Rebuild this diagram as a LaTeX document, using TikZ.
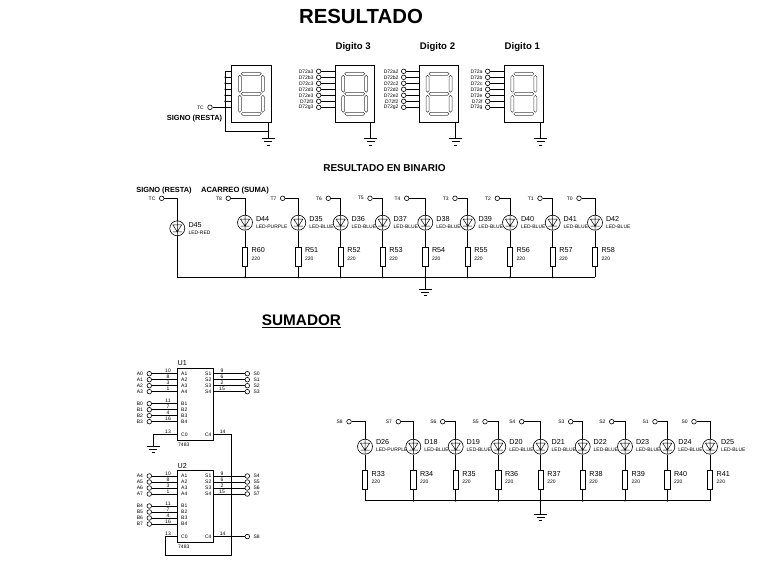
\documentclass[tikz,border=0pt]{standalone}
\usepackage{fontspec}
\setmainfont{Liberation Sans}
\usetikzlibrary{positioning}
\tikzset{
  wire/.style={line width=0.8pt},
  pin/.style={circle, draw, fill=white, line width=0.6pt, inner sep=0pt, minimum size=4.6pt},
  junc/.style={circle, fill, inner sep=0pt, minimum size=2pt},
  pintxt/.style={inner sep=0pt, font=\fontsize{5}{6}\selectfont},
  nametxt/.style={inner sep=0pt, anchor=west, font=\fontsize{7.2}{8}\selectfont},
  valtxt/.style={inner sep=0pt, anchor=west, font=\fontsize{5}{6}\selectfont},
  head/.style={inner sep=0pt, font=\bfseries\fontsize{#1}{#1}\selectfont},
  led/.style={circle, draw, line width=0.6pt, inner sep=0pt, minimum size=15pt,
    path picture={
      \draw[shift={(path picture bounding box.center)}, line width=0.5pt]
        (-4.5,-3.5) -- (4.5,-3.5) -- (0,3.5) -- cycle (-4.5,3.5) -- (4.5,3.5) (0,-8) -- (0,8);
    }},
  res/.style={rectangle, draw, fill=white, line width=0.7pt, inner sep=0pt, minimum width=5.2pt, minimum height=19pt},
  chip/.style={rectangle, draw, line width=0.8pt, inner sep=0pt, minimum width=36pt, minimum height=72pt},
  display/.style={rectangle, draw, line width=0.8pt, inner sep=0pt, minimum width=#1, minimum height=57pt,
    path picture={
      \begin{scope}[shift={(path picture bounding box.center)}, xslant=0.06, line width=0.5pt, black!75]
        \foreach \sy in {-20,0,20}
          \draw (-10,\sy) -- (-8.5,\sy-1.5) -- (8.5,\sy-1.5) -- (10,\sy) -- (8.5,\sy+1.5) -- (-8.5,\sy+1.5) -- cycle;
        \foreach \sx in {-11.5,11.5}
          \foreach \sy in {-10,10}
            \draw (\sx,\sy-8.5) -- (\sx+1.5,\sy-7) -- (\sx+1.5,\sy+7) -- (\sx,\sy+8.5) -- (\sx-1.5,\sy+7) -- (\sx-1.5,\sy-7) -- cycle;
      \end{scope}
    }},
  gnd/.pic={
    \coordinate (-top) at (0,0);
    \draw[line width=0.7pt] (-6.3,0) -- (6.3,0) (-4,3.4) -- (4,3.4) (-1.5,6.6) -- (1.5,6.6);
  }
}
\begin{document}
\begin{tikzpicture}[x=1pt, y=-1pt]
  \useasboundingbox (0,0) rectangle (772,573);

  \node[head=20.4] (title) at (361,16) {RESULTADO};
  \node[head=15.3] (sumador) at (301.5,321) {\underline{SUMADOR}};
  \node[head=10] (binario) at (384.5,168) {RESULTADO EN BINARIO};
  \node[head=7.4] (signo1) at (194.5,118.3) {SIGNO (RESTA)};
  \node[head=7.4] (signo2) at (164,190.3) {SIGNO (RESTA)};
  \node[head=7.6] (acarreo) at (235,190.3) {ACARREO (SUMA)};

  % displays
  \node[display=40.7pt] (sign) at (251.3,93.8) {};
  \foreach \i in {1,...,6} {
    \coordinate (st\i) at (225.3,65.3+6*\i);
    \draw[wire] (st\i) -- (st\i -| sign.west);
  }
  \node[pin] (tc) at (210,107.3) {};
  \node[pintxt, left=3.5pt of tc] (tctxt) {TC};
  \draw[wire] (tc) -- (tc -| sign.west);
  \coordinate (sbus) at (225.3,131.3);
  \coordinate (sgnd) at (268.3,131.3);
  \pic (g0) at (268.3,138.3) {gnd};
  \draw[wire] (st1) -- (sbus) -- (sgnd);
  \draw[wire] (sgnd |- sign.south) -- (g0-top);
  \node[junc] (js) at (sgnd) {};
  \foreach \i in {2,...,6}
    \node[junc] (j\i) at (st\i) {};
  \node[junc] (j7) at (225.3,107.3) {};

  \foreach \dn/\cx/\px/\sfx/\gx/\tn in {d3/354.7/318.7/3/370.7/3, d2/439/403.7/2/455.7/2, d1/523.8/487.7/{}/540.7/1} {
    \node[display=39.5pt] (\dn) at (\cx,93.8) {};
    \node[head=9.6] (\dn t) at (\cx-1.5,46.7) {Digito \tn};
    \foreach \s [count=\i] in {a,b,c,d,e,f,g} {
      \node[pin] (\dn\s) at (\px,65.3+6*\i) {};
      \node[pintxt, left=2.4pt of \dn\s] (\dn\s t) {D72\s\sfx};
      \draw[wire] (\dn\s) -- (\dn\s -| \dn.west);
    }
    \pic (g\dn) at (\gx,138.3) {gnd};
    \draw[wire] (g\dn-top |- \dn.south) -- (g\dn-top);
  }

  % binary leds
  \node[pin] (pD45) at (161.7,198.3) {};
  \node[pintxt, left=3.5pt of pD45] (tD45) {TC};
  \node[led] (D45) at (177.3,228.3) {};
  \node[nametxt] (D45n) at (188.3,225.3) {D45};
  \node[valtxt] (D45v) at (188.3,233) {LED-RED};
  \coordinate (bD45) at (177.3,277.3);
  \draw[wire] (pD45) -| (D45);
  \draw[wire] (D45) -- (bD45);
  \foreach \dn/\rn/\x/\px/\tn/\cn in {D44/R60/245/228.3/T8/LED-PURPLE, D35/R51/298.3/282.7/T7/LED-BLUE,
      D36/R52/340.7/328.3/T6/LED-BLUE, D37/R53/382.7/370/T5/LED-BLUE, D38/R54/425.3/406.7/T4/LED-BLUE,
      D39/R55/467.7/455/T3/LED-BLUE, D40/R56/510/497.3/T2/LED-BLUE, D41/R57/552.7/540/T1/LED-BLUE,
      D42/R58/595/579/T0/LED-BLUE} {
    \node[pin] (p\dn) at (\px,198.3) {};
    \node[pintxt, left=3.5pt of p\dn] (t\dn) {\tn};
    \node[led] (\dn) at (\x,222.7) {};
    \node[nametxt] (\dn n) at (\x+10.8,219.3) {\dn};
    \node[valtxt] (\dn v) at (\x+10.8,226.7) {\cn};
    \node[res] (\rn) at (\x,256.5) {};
    \node[nametxt] (\rn n) at (\x+6.5,250.3) {\rn};
    \node[valtxt] (\rn v) at (\x+6.5,258.3) {220};
    \coordinate (b\dn) at (\x,277.3);
    \draw[wire] (p\dn) -| (\dn);
    \draw[wire] (\dn) -- (\rn) -- (b\dn);
  }
  \draw[wire] (bD45) -- (bD42);
  \foreach \n in {D44,D35,D36,D37,D38,D39,D40,D41}
    \node[junc] (j\n) at (b\n) {};
  \pic (g1) at (425.3,289) {gnd};
  \draw[wire] (bD38) -- (g1-top);

  % sum leds
  \foreach \dn/\rn/\x/\px/\tn/\cn in {D26/R33/365/349/S8/LED-PURPLE, D18/R34/413.3/398.3/S7/LED-BLUE,
      D19/R35/455.7/442.7/S6/LED-BLUE, D20/R36/498.3/485/S5/LED-BLUE, D21/R37/540.7/521.7/S4/LED-BLUE,
      D22/R38/582.7/570.7/S3/LED-BLUE, D23/R39/625/611.7/S2/LED-BLUE, D24/R40/667.3/655/S1/LED-BLUE,
      D25/R41/710/694/S0/LED-BLUE} {
    \node[pin] (p\dn) at (\px,421.7) {};
    \node[pintxt, left=3.5pt of p\dn] (t\dn) {\tn};
    \node[led] (\dn) at (\x,446.7) {};
    \node[nametxt] (\dn n) at (\x+10.8,442.3) {\dn};
    \node[valtxt] (\dn v) at (\x+10.8,449.5) {\cn};
    \node[res] (\rn) at (\x,479.7) {};
    \node[nametxt] (\rn n) at (\x+6.5,474.3) {\rn};
    \node[valtxt] (\rn v) at (\x+6.5,481.7) {220};
    \coordinate (b\dn) at (\x,500.7);
    \draw[wire] (p\dn) -| (\dn);
    \draw[wire] (\dn) -- (\rn) -- (b\dn);
  }
  \draw[wire] (bD26) -- (bD25);
  \foreach \n in {D18,D19,D20,D21,D22,D23,D24}
    \node[junc] (j\n) at (b\n) {};
  \pic (g2) at (540.7,514) {gnd};
  \draw[wire] (bD21) -- (g2-top);

  % adders
  \foreach \un/\off/\base in {U1/0/0, U2/102.3/4} {
    \node[chip] (\un) at (195.3,404.3+\off) {};
    \node[nametxt] (\un t) at (177.5,363.3+\off) {\un};
    \node[valtxt] (\un v) at (178,444.3+\off) {7483};
    \foreach \i/\n/\bn/\sn in {1/10/11/9, 2/8/7/6, 3/3/4/2, 4/1/16/15} {
      \pgfmathtruncatemacro\k{\base+\i-1}
      \node[pin] (a\k) at (149.3,367.7+6*\i+\off) {};
      \node[pintxt, left=3.5pt of a\k] (a\k t) {A\k};
      \draw[wire] (a\k) -- (a\k -| \un.west);
      \node[pintxt] (\un an\i) at (168,365+6*\i+\off) {\n};
      \node[valtxt] (\un a\i) at (181,367.7+6*\i+\off) {A\i};
      \node[pin] (b\k) at (149.3,397.7+6*\i+\off) {};
      \node[pintxt, left=3.5pt of b\k] (b\k t) {B\k};
      \draw[wire] (b\k) -- (b\k -| \un.west);
      \node[pintxt] (\un bn\i) at (168,395+6*\i+\off) {\bn};
      \node[valtxt] (\un b\i) at (181,397.7+6*\i+\off) {B\i};
      \node[pin] (s\k) at (247.3,367.7+6*\i+\off) {};
      \node[pintxt, right=3.5pt of s\k] (s\k t) {S\k};
      \draw[wire] (s\k) -- (s\k -| \un.east);
      \node[pintxt] (\un sn\i) at (222,365+6*\i+\off) {\sn};
      \node[pintxt] (\un s\i) at (208.3,367.7+6*\i+\off) {S\i};
    }
    \coordinate (\un c0) at (177.3,434.3+\off);
    \coordinate (\un c4) at (213.3,434.3+\off);
    \node[pintxt] (\un n13) at (168,431.3+\off) {13};
    \node[pintxt] (\un n14) at (222.7,431.3+\off) {14};
    \node[valtxt] (\un c0t) at (181,434.3+\off) {C0};
    \node[pintxt] (\un c4t) at (208.3,434.3+\off) {C4};
  }
  \pic (g3) at (153.3,446) {gnd};
  \draw[wire] (U1c0) -| (g3-top);
  \coordinate (cr) at (231.3,555.7);
  \coordinate (cl) at (165,555.7);
  \draw[wire] (U1c4) -| (cr) -- (cl) |- (U2c0);
  \node[pin] (s8) at (247.3,536.6) {};
  \node[pintxt, right=3.5pt of s8] (s8t) {S8};
  \draw[wire] (U2c4) -- (s8);
\end{tikzpicture}
\end{document}
